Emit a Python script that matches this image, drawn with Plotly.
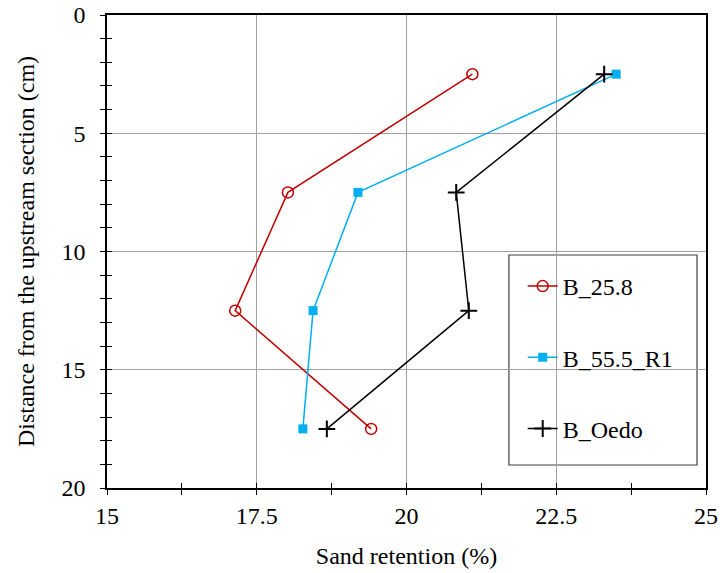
import plotly.graph_objects as go

depth = [2.5, 7.5, 12.5, 17.5]
b258 = [21.1, 18.02, 17.14, 19.41]
b555 = [23.5, 19.19, 18.44, 18.27]
boedo = [23.3, 20.83, 21.04, 18.67]
names = ["B_25.8", "B_55.5_R1", "B_Oedo"]
xticks = [15, 17.5, 20, 22.5, 25]
yticks = [0, 5, 10, 15, 20]

font = "Liberation Serif, Times New Roman, serif"
FS = 24
fig = go.Figure()
fig.add_trace(go.Scatter(x=b258, y=depth, name=names[0], mode="lines+markers",
                         line=dict(color="#C00000", width=1.5),
                         marker=dict(symbol="circle-open", size=11, color="#C00000", line=dict(width=1.5)),
                         legendgroup="a"))
fig.add_trace(go.Scatter(x=b555, y=depth, name=names[1], mode="lines+markers",
                         line=dict(color="#00B0F0", width=1.5),
                         marker=dict(symbol="square", size=9, color="#00B0F0"),
                         legendgroup="b"))
fig.add_trace(go.Scatter(x=boedo, y=depth, name=names[2], mode="lines+markers",
                         line=dict(color="black", width=1.5),
                         marker=dict(symbol="cross-thin", size=12, color="black", line=dict(width=2, color="black")),
                         legendgroup="c"))

axcommon = dict(showline=True, linecolor="black", linewidth=1.5, mirror=True,
                ticklen=5, tickwidth=1, tickcolor="black", automargin=False,
                tickfont=dict(family=font, size=FS, color="black"),
                zeroline=False)
fig.update_layout(
    width=720, height=573,
    margin=dict(l=107, r=14, t=15, b=85),
    paper_bgcolor="white", plot_bgcolor="white",
    font=dict(family=font, size=FS, color="black"),
    xaxis=dict(range=[15, 25], tickvals=xticks, ticktext=[str(v) for v in xticks],
               ticks="outside", showgrid=True, gridcolor="#A0A0A0", gridwidth=1.2,
               minor=dict(dtick=1.25, ticks="outside", ticklen=5, tickcolor="black", showgrid=False),
               title=dict(text="Sand retention (%)", font=dict(family=font, size=FS), standoff=20),
               ticklabeloverflow="allow",
               **axcommon),
    yaxis=dict(range=[20, 0], tickvals=yticks, ticktext=[str(v) for v in yticks],
               ticks="outside", showgrid=True, gridcolor="#A0A0A0", gridwidth=1.2,
               minor=dict(dtick=1, ticks="outside", ticklen=5, tickcolor="black", showgrid=False),
               title=dict(text="Distance from the upstream section (cm)", font=dict(family=font, size=FS), standoff=20),
               ticklabelstandoff=10, ticklabeloverflow="allow",
               **axcommon),
    xaxis2=dict(overlaying="x", range=[15, 25], side="bottom", showticklabels=False,
                tickvals=xticks, ticks="inside", ticklen=5, tickcolor="black", showgrid=False, zeroline=False,
                minor=dict(dtick=1.25, ticks="inside", ticklen=5, tickcolor="black", showgrid=False),
                showline=False, automargin=False),
    yaxis2=dict(overlaying="y", range=[20, 0], side="left", showticklabels=False,
                tickvals=yticks, ticks="inside", ticklen=5, tickcolor="black", showgrid=False, zeroline=False,
                minor=dict(dtick=1, ticks="inside", ticklen=5, tickcolor="black", showgrid=False),
                showline=False, automargin=False),
    legend=dict(x=0.694, y=0.4736, xanchor="left", yanchor="top",
                bgcolor="rgba(0,0,0,0)", borderwidth=0,
                font=dict(family=font, size=FS, color="black"),
                tracegroupgap=37, itemwidth=30),
    showlegend=True,
    shapes=[dict(type="rect", xref="paper", yref="paper", x0=0.671, x1=0.985, y0=0.0486, y1=0.4926,
                 line=dict(color="#404040", width=1.2), fillcolor="white", layer="below")],
)
fig.add_trace(go.Scatter(x=[None], y=[None], xaxis="x2", yaxis="y2", showlegend=False, hoverinfo="skip"))
fig.write_html("out.html", config={"displayModeBar": False},
               post_script="document.body.style.margin='0px';document.body.style.overflow='hidden';")
